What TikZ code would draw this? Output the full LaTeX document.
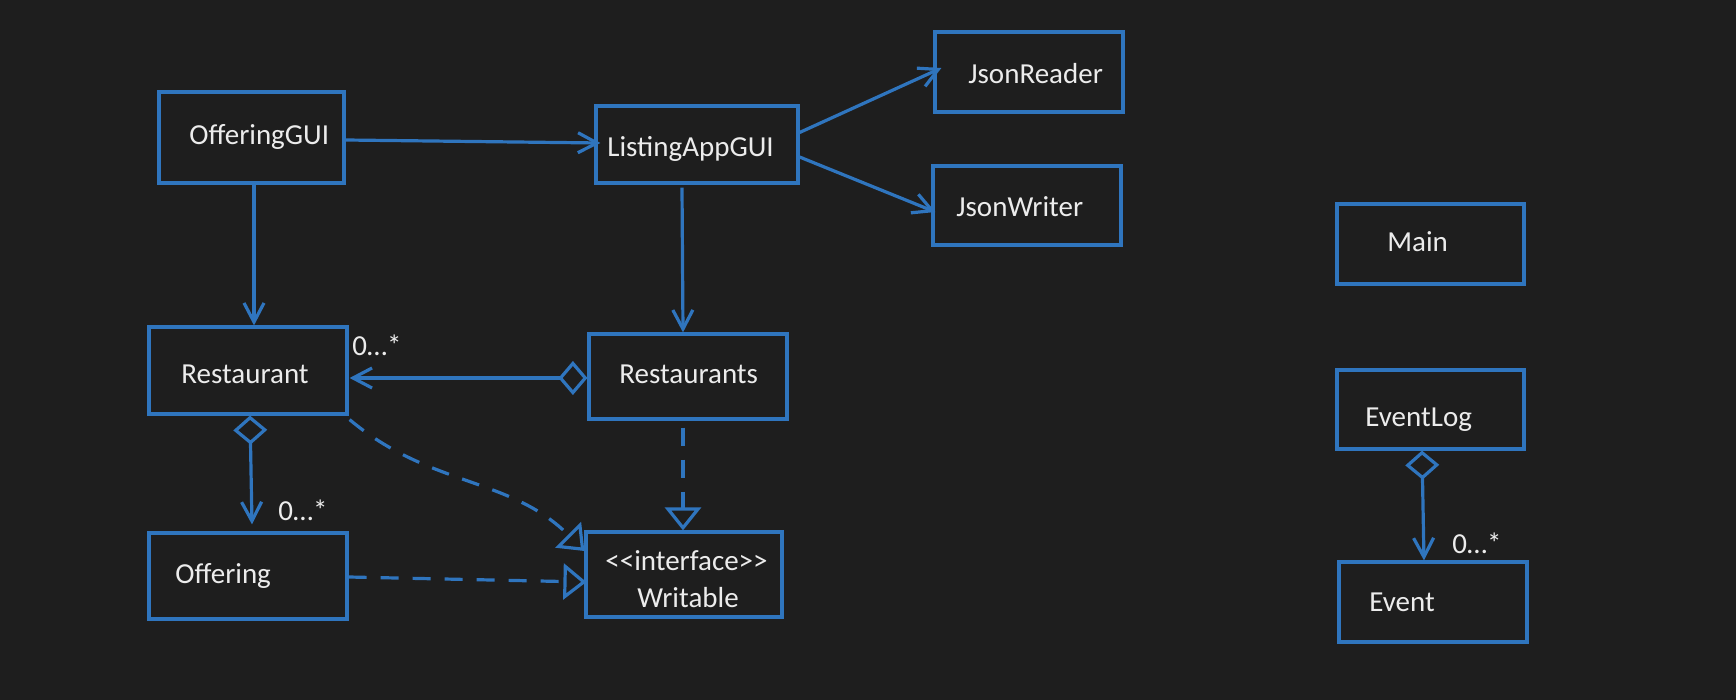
\documentclass[tikz,border=0pt]{standalone}
\usepackage{fontspec}
\newfontfamily\uifont{Carlito}
\usetikzlibrary{arrows.meta}
\definecolor{bg}{RGB}{30,30,30}
\definecolor{uml}{RGB}{47,117,190}
\definecolor{txt}{RGB}{236,236,236}
\begin{document}
\begin{tikzpicture}[x=0.5pt,y=-0.5pt,
  box/.style 2 args={draw=uml, line width=1.6pt, rectangle, inner sep=0pt,
    minimum width={#1*0.5pt}, minimum height={#2*0.5pt}},
  lbl/.style={text=txt, font=\uifont\fontsize{14.5}{17}\selectfont, inner sep=0pt, anchor=base west},
  conn/.style={draw=uml, line width=1.6pt},
  assoc/.style={conn, -{Straight Barb[length=9.5pt,width=10pt]}},
  agg/.style={conn, {Diamond[open,length=14.5pt,width=17pt]}-{Straight Barb[length=9.5pt,width=10pt]}},
  realize/.style={conn, dash pattern=on 9pt off 7pt, -{Triangle[open,length=11.5pt,width=18pt]}},
]
\fill[bg] (0,0) rectangle (1736,700);
\useasboundingbox (0,0) rectangle (1736,700);

% boxes
\node[box={185}{91}] (OfferingGUI) at (251.5,137.5) {};
\node[box={202}{77}] (ListingAppGUI) at (697,144.5) {};
\node[box={188}{80}] (JsonReader) at (1029,72) {};
\node[box={188}{79}] (JsonWriter) at (1027,205.5) {};
\node[box={187}{80}] (Main) at (1430.5,244) {};
\node[box={187}{79}] (EventLog) at (1430.5,409.5) {};
\node[box={188}{80}] (Event) at (1433,602) {};
\node[box={198}{87}] (Restaurant) at (248,370.5) {};
\node[box={198}{85}] (Restaurants) at (688,376.5) {};
\node[box={198}{86}] (Offering) at (248,576) {};
\node[box={196}{85}] (Writable) at (684,574.5) {};

% texts
\node[lbl] (tOfferingGUI) at (189,145) {OfferingGUI};
\node[lbl] (tListingAppGUI) at (607,157) {ListingAppGUI};
\node[lbl] (tJsonReader) at (968,84) {JsonReader};
\node[lbl] (tJsonWriter) at (956,217) {JsonWriter};
\node[lbl] (tMain) at (1387,252) {Main};
\node[lbl] (tEventLog) at (1365,426) {EventLog};
\node[lbl] (tEvent) at (1369,611) {Event};
\node[lbl] (tRestaurant) at (181,384) {Restaurant};
\node[lbl] (tRestaurants) at (619,384) {Restaurants};
\node[lbl] (tOffering) at (175,583) {Offering};
\node[lbl] (tInterface) at (605,570) {<<interface>>};
\node[lbl] (tWritable) at (637,607) {Writable};

% multiplicities
\node[lbl] (m1) at (352,356) {0…*};
\node[lbl] (m2) at (278,520) {0…*};
\node[lbl] (m3) at (1452,553) {0…*};

% associations
\draw[assoc] ([yshift=-1.25pt]OfferingGUI.east) -- ([xshift=3pt,yshift=0.75pt]ListingAppGUI.west);
\draw[assoc] ([xshift=1.25pt]OfferingGUI.south) -- ([xshift=3pt]Restaurant.north);
\draw[assoc] ([xshift=-7.5pt,yshift=-1.5pt]ListingAppGUI.south) -- ([xshift=-2.5pt]Restaurants.north);
\draw[assoc] ([yshift=6pt]ListingAppGUI.east) -- ([xshift=4pt,yshift=2pt]JsonReader.west);
\draw[assoc] ([yshift=-6.25pt]ListingAppGUI.east) -- ([xshift=2pt,yshift=-3.25pt]JsonWriter.west);

% aggregations
\draw[agg] ([yshift=-0.75pt]Restaurants.west) -- ([xshift=0.5pt,yshift=-3.75pt]Restaurant.east);
\draw[agg] ([xshift=1pt]Restaurant.south) -- ([xshift=2pt,yshift=3.5pt]Offering.north);
\draw[agg] ([xshift=-4.25pt]EventLog.south) -- ([xshift=-4.5pt]Event.north);

% realizations
\draw[realize] ([xshift=-2.5pt,yshift=-3.5pt]Restaurants.south) -- ([xshift=-0.5pt]Writable.north);
\draw[realize] ([yshift=-0.5pt]Offering.east) -- ([xshift=1pt,yshift=-3.75pt]Writable.west);
\draw[realize] ([xshift=0.5pt,yshift=-2pt]Restaurant.south east) to[out=-40,in=135] ([yshift=11.75pt]Writable.west);
\end{tikzpicture}
\end{document}
